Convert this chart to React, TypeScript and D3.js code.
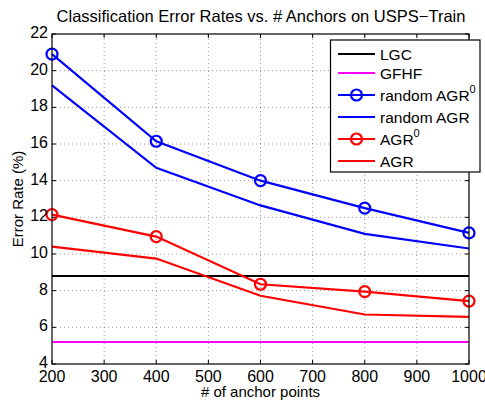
import React from "react";
import * as d3 from "d3";

const anchors = [200, 400, 600, 800, 1000];
const lgc = [8.8, 8.8, 8.8, 8.8, 8.8];
const gfhf = [5.2, 5.2, 5.2, 5.2, 5.2];
const randomAgr0 = [20.9, 16.15, 14.0, 12.5, 11.15];
const randomAgr = [19.2, 14.7, 12.65, 11.1, 10.3];
const agr0 = [12.15, 10.95, 8.35, 7.95, 7.43];
const agr = [10.4, 9.75, 7.72, 6.7, 6.57];

const xTicks = [200, 300, 400, 500, 600, 700, 800, 900, 1000];
const yTicks = [4, 6, 8, 10, 12, 14, 16, 18, 20, 22];

const series = [
  { name: "LGC", sup: "", values: lgc, color: "#000000", marker: false },
  { name: "GFHF", sup: "", values: gfhf, color: "#ff00ff", marker: false },
  { name: "random AGR", sup: "0", values: randomAgr0, color: "#0000ff", marker: true },
  { name: "random AGR", sup: "", values: randomAgr, color: "#0000ff", marker: false },
  { name: "AGR", sup: "0", values: agr0, color: "#ff0000", marker: true },
  { name: "AGR", sup: "", values: agr, color: "#ff0000", marker: false },
];

const W = 485;
const H = 400;
const m = { left: 52, right: 16, top: 34, bottom: 36 };
const font = "'Liberation Sans', Arial, Helvetica, sans-serif";

export default function App() {
  const x = d3.scaleLinear().domain([200, 1000]).range([m.left, W - m.right]);
  const y = d3.scaleLinear().domain([4, 22]).range([H - m.bottom, m.top]);
  const line = d3
    .line<number>()
    .x((_, i) => x(anchors[i]))
    .y((d) => y(d));

  const [x0, x1] = x.range();
  const [y0, y1] = y.range();

  // legend rows, taller where a superscript sits
  let cy = 54;
  const rows = series.map((s, i) => {
    if (i > 0) cy += (series[i - 1].sup ? 12.5 : 9.5) + (s.sup ? 12.5 : 9.5);
    return { ...s, cy };
  });

  return (
    <svg
      width={W}
      height={H}
      style={{ position: "absolute", left: 0, top: 0, background: "#fff" }}
      fontFamily={font}
    >
      <rect width={W} height={H} fill="#fff" />
      {/* grid */}
      <g stroke="#555" strokeWidth={0.6} strokeDasharray="1,3">
        {xTicks.slice(1, -1).map((t) => (
          <line key={"gx" + t} x1={x(t)} x2={x(t)} y1={y0} y2={y1} />
        ))}
        {yTicks.slice(1, -1).map((t) => (
          <line key={"gy" + t} x1={x0} x2={x1} y1={y(t)} y2={y(t)} />
        ))}
      </g>
      {/* ticks, inside on all four sides */}
      <g stroke="#000" strokeWidth={1}>
        {xTicks.map((t) => (
          <g key={"tx" + t}>
            <line x1={x(t)} x2={x(t)} y1={y0} y2={y0 - 4} />
            <line x1={x(t)} x2={x(t)} y1={y1} y2={y1 + 4} />
          </g>
        ))}
        {yTicks.map((t) => (
          <g key={"ty" + t}>
            <line x1={x0} x2={x0 + 4} y1={y(t)} y2={y(t)} />
            <line x1={x1} x2={x1 - 4} y1={y(t)} y2={y(t)} />
          </g>
        ))}
      </g>
      {/* series */}
      {series.map((s, i) => (
        <g key={i}>
          <path d={line(s.values) || ""} fill="none" stroke={s.color} strokeWidth={2.2} />
          {s.marker &&
            s.values.map((v, j) => (
              <circle
                key={j}
                cx={x(anchors[j])}
                cy={y(v)}
                r={5.5}
                fill="none"
                stroke={s.color}
                strokeWidth={2.2}
              />
            ))}
        </g>
      ))}
      <rect x={x0} y={y1} width={x1 - x0} height={y0 - y1} fill="none" stroke="#000" strokeWidth={1.2} />
      {/* tick labels */}
      <g fontSize={16} fill="#000">
        {xTicks.map((t) => (
          <text key={"lx" + t} x={x(t)} y={y0 + 17.5} textAnchor="middle">
            {t}
          </text>
        ))}
        {yTicks.map((t) => (
          <text key={"ly" + t} x={x0 - 4} y={y(t) + 4} textAnchor="end">
            {t}
          </text>
        ))}
      </g>
      <text x={(x0 + x1) / 2} y={397} textAnchor="middle" fontSize={15}>
        # of anchor points
      </text>
      <text
        transform={`translate(23,${(y0 + y1) / 2}) rotate(-90)`}
        textAnchor="middle"
        fontSize={15}
      >
        Error Rate (%)
      </text>
      <text x={261} y={22} textAnchor="middle" fontSize={16.5}>
        Classification Error Rates vs. # Anchors on USPS−Train
      </text>
      {/* legend */}
      <g>
        <rect x={330.5} y={40} width={149.5} height={132} fill="#fff" stroke="#000" strokeWidth={1.2} />
        {rows.map((r, i) => (
          <g key={i}>
            <line x1={338} x2={375} y1={r.cy} y2={r.cy} stroke={r.color} strokeWidth={2.2} />
            {r.marker && (
              <circle cx={356.5} cy={r.cy} r={5.5} fill="none" stroke={r.color} strokeWidth={2.2} />
            )}
            <text x={380} y={r.cy + 5.5} fontSize={15.5}>
              {r.name}
              {r.sup && (
                <tspan fontSize={11} dy={-8}>
                  {r.sup}
                </tspan>
              )}
            </text>
          </g>
        ))}
      </g>
    </svg>
  );
}
